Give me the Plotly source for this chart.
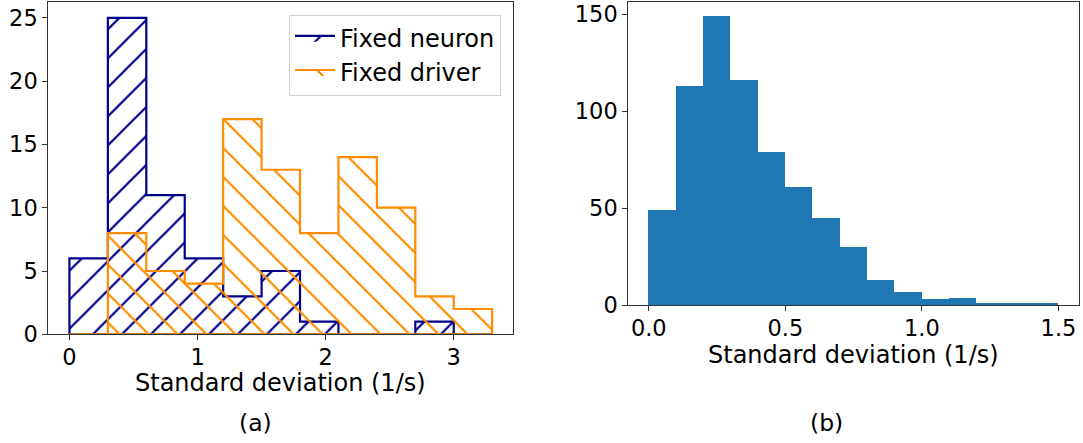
import plotly.graph_objects as go

# ---------------- data ----------------
bin_edges_a = [0.0, 0.3, 0.6, 0.9, 1.2, 1.5, 1.8, 2.1, 2.4, 2.7, 3.0, 3.3]
fixed_neuron_counts = [6, 25, 11, 6, 3, 5, 1, 0, 0, 1, 0]
fixed_driver_counts = [0, 8, 5, 4, 17, 13, 8, 14, 10, 3, 2]

bin_edges_b = [0.0, 0.1, 0.2, 0.3, 0.4, 0.5, 0.6, 0.7, 0.8, 0.9, 1.0, 1.1, 1.2, 1.3, 1.4, 1.5]
all_counts_b = [49, 113, 149, 116, 79, 61, 45, 30, 13, 7, 3, 4, 1, 1, 1]

x_ticks_a = [0, 1, 2, 3]
y_ticks_a = [0, 5, 10, 15, 20, 25]
x_ticks_b = [0.0, 0.5, 1.0, 1.5]
x_tick_text_b = ["0.0", "0.5", "1.0", "1.5"]
y_ticks_b = [0, 50, 100, 150]

series_names = ["Fixed neuron", "Fixed driver"]
x_label = "Standard deviation (1/s)"
panel_labels = ["(a)", "(b)"]

NAVY = "#00008B"
ORANGE = "#FF8C00"
MPL_BLUE = "#1f77b4"
FONT = "DejaVu Sans"
FS_TICK = 22.5
FS_LABEL = 24


def step_polygon(edges, counts):
    xs = [edges[0]]
    ys = [0]
    for i, c in enumerate(counts):
        xs += [edges[i], edges[i + 1]]
        ys += [c, c]
    xs += [edges[-1], edges[0]]
    ys += [0, 0]
    return xs, ys


fig = go.Figure()

for name, counts, color, shape in [
    (series_names[0], fixed_neuron_counts, NAVY, "/"),
    (series_names[1], fixed_driver_counts, ORANGE, "\\"),
]:
    xs, ys = step_polygon(bin_edges_a, counts)
    fig.add_trace(go.Scatter(
        x=xs, y=ys, mode="lines", name=name,
        fill="toself", fillcolor="rgba(0,0,0,0)",
        fillpattern=dict(shape=shape, fgcolor=color, bgcolor="rgba(0,0,0,0)",
                         size=20.5, solidity=0.11, fillmode="replace"),
        line=dict(color=color, width=2.2),
        xaxis="x", yaxis="y", hoverinfo="skip",
    ))

centers_b = [(bin_edges_b[i] + bin_edges_b[i + 1]) / 2 for i in range(len(all_counts_b))]
widths_b = [bin_edges_b[i + 1] - bin_edges_b[i] for i in range(len(all_counts_b))]
fig.add_trace(go.Bar(
    x=centers_b, y=all_counts_b, width=widths_b,
    marker=dict(color=MPL_BLUE, line=dict(width=0)),
    xaxis="x2", yaxis="y2", showlegend=False,
))

W, H = 1083, 443

def px_x(p):
    return p / W

def px_y(p):
    return 1 - p / H

axis_common = dict(
    showgrid=False, zeroline=False, showline=True, mirror=True, automargin=False,
    linecolor="#333333", linewidth=1.1, ticks="outside", ticklen=5,
    tickwidth=1.1, tickcolor="#333333",
    tickfont=dict(family=FONT, size=FS_TICK, color="black"),
)

fig.update_layout(
    width=W, height=H,
    margin=dict(l=0, r=0, t=0, b=0, autoexpand=False),
    paper_bgcolor="white", plot_bgcolor="white",
    bargap=0, barmode="overlay",
    xaxis=dict(domain=[px_x(48.3), px_x(513.3)], range=[-0.165, 3.465],
               tickvals=x_ticks_a, anchor="y", ticklabelstandoff=-2, **axis_common),
    yaxis=dict(domain=[px_y(334.3), px_y(2)], range=[0, 26.25],
               tickvals=y_ticks_a, anchor="x", **axis_common),
    xaxis2=dict(domain=[px_x(628.3), px_x(1079)], range=[-0.075, 1.575],
                tickvals=x_ticks_b, ticktext=x_tick_text_b, anchor="y2",
                ticklabelstandoff=-2, **axis_common),
    yaxis2=dict(domain=[px_y(305.3), px_y(2)], range=[0, 156.45],
                tickvals=y_ticks_b, anchor="x2", **axis_common),
    legend=dict(x=px_x(501), y=px_y(14.7), xanchor="right", yanchor="top",
                bgcolor="rgba(255,255,255,0.85)", bordercolor="#d0d0d0", borderwidth=1,
                font=dict(family=FONT, size=FS_LABEL, color="black"),
                itemwidth=40),
    showlegend=True,
    annotations=[
        dict(text=x_label, x=px_x(280.8), y=px_y(382.5), xref="paper", yref="paper",
             showarrow=False, xanchor="center", yanchor="middle",
             font=dict(family=FONT, size=FS_LABEL, color="black")),
        dict(text=x_label, x=px_x(853.6), y=px_y(354.5), xref="paper", yref="paper",
             showarrow=False, xanchor="center", yanchor="middle",
             font=dict(family=FONT, size=FS_LABEL, color="black")),
        dict(text=panel_labels[0], x=px_x(255.5), y=px_y(423), xref="paper", yref="paper",
             showarrow=False, xanchor="center", yanchor="middle",
             font=dict(family=FONT, size=23.5, color="black")),
        dict(text=panel_labels[1], x=px_x(826), y=px_y(423), xref="paper", yref="paper",
             showarrow=False, xanchor="center", yanchor="middle",
             font=dict(family=FONT, size=23.5, color="black")),
    ],
)

fig.write_html("out.html")
